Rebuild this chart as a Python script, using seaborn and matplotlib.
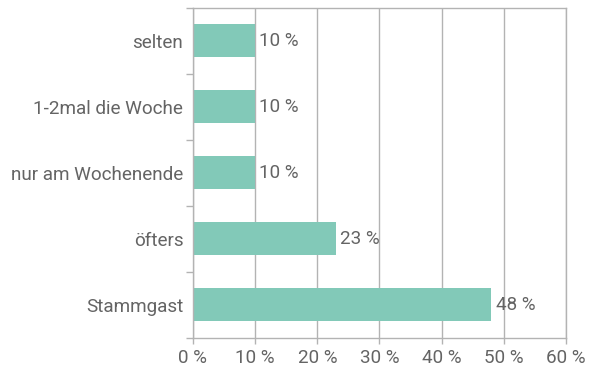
import matplotlib
matplotlib.use("Agg")
import matplotlib.pyplot as plt
import seaborn as sns
import pandas as pd
from matplotlib.ticker import FixedLocator, FuncFormatter

categories = ["selten", "1-2mal die Woche", "nur am Wochenende", "öfters", "Stammgast"]
values = [10, 10, 10, 23, 48]
x_ticks = [0, 10, 20, 30, 40, 50, 60]

sns.set_style("white")
plt.rcParams["font.family"] = ["Roboto", "DejaVu Sans"]

text_color = "#646464"
grid_color = "#b3b3b3"
bar_color = "#82c9b8"
fs = 13.6

df = pd.DataFrame({"cat": categories, "val": values})

fig = plt.figure(figsize=(5.99, 3.79), dpi=100)
ax = fig.add_axes([0.3222, 0.1082, 0.6227, 0.8707])

sns.barplot(data=df, x="val", y="cat", orient="h", color=bar_color,
            width=0.5, saturation=1, linewidth=0, ax=ax)

ax.set_xlim(0, 60)
ax.set_ylim(len(categories) - 0.5, -0.5)
ax.set_xticks(x_ticks)
ax.xaxis.set_major_formatter(FuncFormatter(lambda v, p: f"{int(v)} %"))
ax.grid(axis="x", color=grid_color, linewidth=1)
ax.set_axisbelow(True)

# ticks between categories on the y axis
ax.yaxis.set_minor_locator(FixedLocator([i - 0.5 for i in range(len(categories) + 1)]))
ax.tick_params(axis="y", which="both", left=True)
ax.tick_params(axis="y", which="major", length=0, pad=7, labelsize=fs, labelcolor=text_color)
ax.tick_params(axis="y", which="minor", length=5, color=grid_color, width=1)
ax.tick_params(axis="x", which="major", bottom=True, length=4, color=grid_color, width=1,
               labelsize=fs, labelcolor=text_color, pad=4)

for s in ax.spines.values():
    s.set_visible(True)
    s.set_color(grid_color)
    s.set_linewidth(1)

ax.set_xlabel("")
ax.set_ylabel("")

for c in ax.containers:
    ax.bar_label(c, labels=[f"{v} %" for v in values], padding=3,
                 fontsize=fs, color=text_color)

fig.savefig("out.png", dpi=100)
